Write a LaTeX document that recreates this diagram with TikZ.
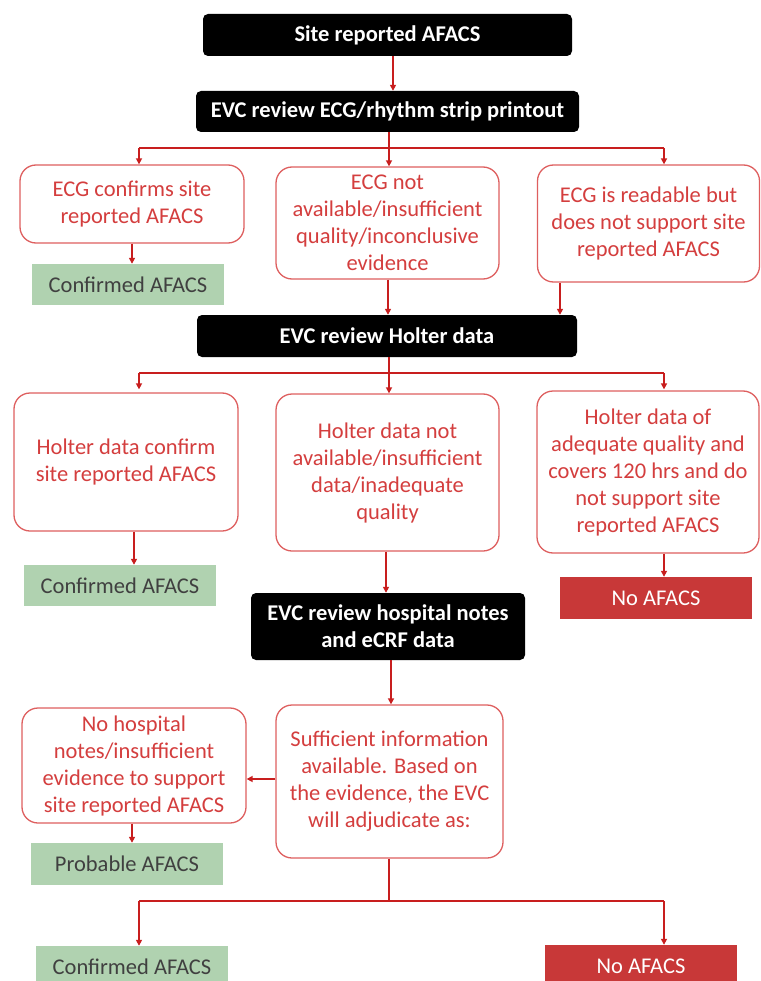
\documentclass[tikz,border=0pt]{standalone}
\usepackage{fontspec}
\setmainfont{Carlito}
\usetikzlibrary{arrows.meta}
\definecolor{linered}{RGB}{200,30,30}
\definecolor{boxred}{RGB}{222,95,95}
\definecolor{txtred}{RGB}{212,62,62}
\definecolor{okgreen}{RGB}{176,210,176}
\definecolor{nored}{RGB}{200,56,56}
\definecolor{dgray}{RGB}{64,64,64}
\tikzset{
  base/.style={inner sep=0pt, align=center, font=\fontsize{22.5}{27}\selectfont},
  blackbox/.style={base, fill=black, text=white, rounded corners=5pt, font=\fontsize{22.5}{27}\selectfont\bfseries},
  redbox/.style={base, draw=boxred, line width=1.3pt, fill=white, text=txtred, rounded corners=16pt},
  greenbox/.style={base, fill=okgreen, text=dgray, minimum width=192pt, minimum height=41pt},
  nobox/.style={base, fill=nored, text=white, minimum width=192pt, minimum height=42pt},
  conn/.style={draw=linered, line width=1.8pt},
  arr/.style={conn, -{Triangle[length=6pt,width=6pt]}},
}
\begin{document}
\begin{tikzpicture}[x=1pt,y=-1pt]
\useasboundingbox (0,0) rectangle (760,981);
% nodes
\node[blackbox, minimum width=369pt, minimum height=42pt] (top) at (387.5,35) {Site reported AFACS};
\node[blackbox, minimum width=383pt, minimum height=41pt] (ecg) at (387.5,111.5) {EVC review ECG/rhythm strip printout};
\node[redbox, minimum width=224pt, minimum height=78pt] (b1) at (132,204) {ECG confirms site\\reported AFACS};
\node[redbox, minimum width=223pt, minimum height=112pt] (b2) at (387.5,223) {ECG not\\available/insufficient\\quality/inconclusive\\evidence};
\node[redbox, minimum width=222pt, minimum height=117pt] (b3) at (648.5,223.5) {ECG is readable but\\does not support site\\reported AFACS};
\node[greenbox] (g1) at (128,284.5) {Confirmed AFACS};
\node[blackbox, minimum width=380pt, minimum height=42pt] (holter) at (387,336) {EVC review Holter data};
\node[redbox, minimum width=224pt, minimum height=138pt] (h1) at (126,462) {Holter data confirm\\site reported AFACS};
\node[redbox, minimum width=223pt, minimum height=157pt] (h2) at (387.5,472.5) {Holter data not\\available/insufficient\\data/inadequate\\quality};
\node[redbox, minimum width=222pt, minimum height=162pt] (h3) at (648,472) {Holter data of\\adequate quality and\\covers 120 hrs and do\\not support site\\reported AFACS};
\node[greenbox] (g2) at (120,585.5) {Confirmed AFACS};
\node[blackbox, minimum width=274pt, minimum height=67pt] (hosp) at (388,626.5) {EVC review hospital notes\\and eCRF data};
\node[nobox] (r1) at (656,598) {No AFACS};
\node[redbox, minimum width=227pt, minimum height=153pt] (suff) at (389.5,781.5) {Sufficient information\\available. Based on\\the evidence, the EVC\\will adjudicate as:};
\node[redbox, minimum width=224pt, minimum height=115pt] (nohosp) at (134,765.5) {No hospital\\notes/insufficient\\evidence to support\\site reported AFACS};
\node[greenbox, minimum height=42pt] (g3) at (127,864) {Probable AFACS};
\node[greenbox, minimum height=42pt] (g4) at (132,967) {Confirmed AFACS};
\node[nobox] (r2) at (641,966) {No AFACS};
% junction coordinates
\coordinate (j1) at (389,148);
\coordinate (j1l) at (139,148);
\coordinate (j1r) at (664,148);
\coordinate (j2) at (389,373);
\coordinate (j2l) at (139,373);
\coordinate (j2r) at (664,373);
\coordinate (j3) at (389,901);
\coordinate (j3l) at (139,901);
\coordinate (j3r) at (664,901);
% connectors
\draw[arr] ([xshift=5.5pt]top.south) -- ([xshift=5.5pt]top.south |- ecg.north);
\draw[conn] (ecg.south -| j1) -- (j1);
\draw[conn] (j1l) -- (j1r);
\draw[arr] (j1l) -- (j1l |- b1.north);
\draw[arr] (j1) -- (j1 |- b2.north);
\draw[arr] (j1r) -- (j1r |- b3.north);
\draw[arr] (b1.south) -- (b1.south |- g1.north);
\draw[arr] ([xshift=0.5pt]b2.south) -- ([xshift=0.5pt]b2.south |- holter.north);
\draw[arr] ([xshift=-88.5pt]b3.south) -- ([xshift=-88.5pt]b3.south |- holter.north);
\draw[conn] (holter.south -| j2) -- (j2);
\draw[conn] (j2l) -- (j2r);
\draw[arr] (j2l) -- ([yshift=3pt]j2l |- h1.north);
\draw[arr] (j2) -- (j2 |- h2.north);
\draw[arr] (j2r) -- ([yshift=1pt]j2r |- h3.north);
\draw[arr] ([xshift=8pt]h1.south) -- ([xshift=8pt]h1.south |- g2.north);
\draw[arr] ([xshift=-1.5pt]h2.south) -- ([xshift=-1.5pt]h2.south |- hosp.north);
\draw[arr] ([xshift=16pt]h3.south) -- ([xshift=16pt]h3.south |- r1.north);
\draw[arr] ([xshift=3pt]hosp.south) -- ([xshift=3pt]hosp.south |- suff.north);
\draw[arr] ([yshift=2.5pt]suff.west) -- ([yshift=2.5pt]suff.west -| nohosp.east);
\draw[arr] ([xshift=-2pt]nohosp.south) -- ([xshift=-2pt]nohosp.south |- g3.north);
\draw[conn] (suff.south -| j3) -- (j3);
\draw[conn] (j3l) -- (j3r);
\draw[arr] (j3l) -- (j3l |- g4.north);
\draw[arr] (j3r) -- (j3r |- r2.north);
\end{tikzpicture}
\end{document}
